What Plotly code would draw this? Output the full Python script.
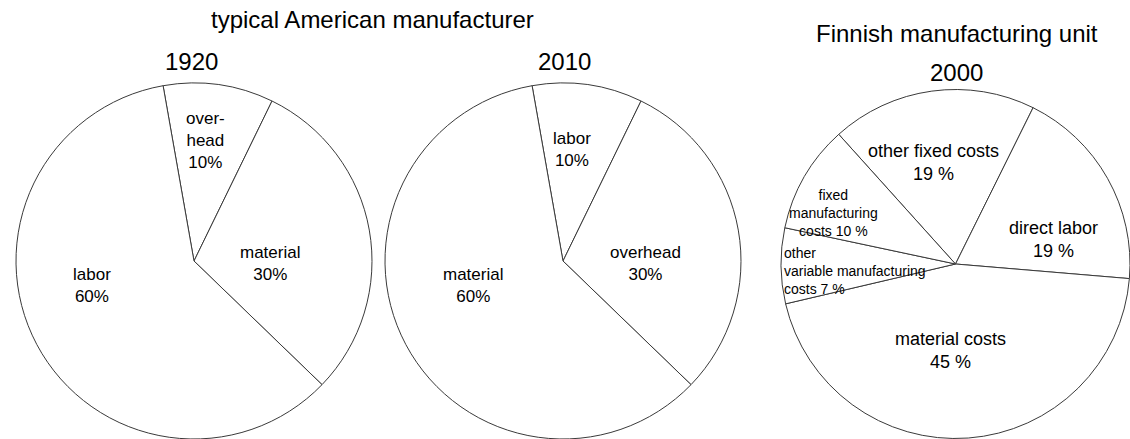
import plotly.graph_objects as go

W, H = 1130, 439

# ---- data ----
us1920_labels = ["over-<br>head", "material", "labor"]
us1920_values = [10, 30, 60]
us2010_labels = ["labor", "overhead", "material"]
us2010_values = [10, 30, 60]
fi2000_labels = ["other fixed costs", "direct labor", "material costs",
                 "other<br>variable manufacturing<br>costs", "fixed<br>manufacturing<br>costs"]
fi2000_values = [19, 19, 45, 7, 10]

FONT = "Liberation Sans, Arial, sans-serif"
LINE = dict(color="#3a3a3a", width=1)


def px2paper(x0, x1, y0, y1):
    return dict(x=[max(0, x0 / W), min(1, x1 / W)], y=[max(0, 1 - y1 / H), min(1, 1 - y0 / H)])


fig = go.Figure()
fig.add_trace(go.Pie(labels=us1920_labels, values=us1920_values, sort=False,
                     direction="clockwise", rotation=-10,
                     domain=px2paper(16, 372, 83, 439),
                     marker=dict(colors=["white"] * 3, line=LINE),
                     textinfo="none", showlegend=False, name="1920"))
fig.add_trace(go.Pie(labels=us2010_labels, values=us2010_values, sort=False,
                     direction="clockwise", rotation=-10,
                     domain=px2paper(385, 741, 83, 439),
                     marker=dict(colors=["white"] * 3, line=LINE),
                     textinfo="none", showlegend=False, name="2010"))
fig.add_trace(go.Pie(labels=fi2000_labels, values=fi2000_values, sort=False,
                     direction="clockwise", rotation=-42,
                     domain=px2paper(781, 1130, 89, 439),
                     marker=dict(colors=["white"] * 5, line=LINE),
                     textinfo="none", showlegend=False, name="2000"))


def ann(text, x, y, size, xanchor="center", align="center"):
    return dict(text=text, x=x / W, y=1 - y / H, xref="paper", yref="paper",
                showarrow=False, xanchor=xanchor, yanchor="middle", align=align,
                font=dict(family=FONT, size=size, color="black"))


anns = [
    ann("typical American manufacturer", 372, 20, 24),
    ann("1920", 191, 62, 24),
    ann("2010", 564, 62, 24),
    ann("Finnish manufacturing unit", 957, 33, 24),
    ann("2000", 956, 72, 24),
    # 1920
    ann(f"{us1920_labels[0]}<br>{us1920_values[0]}%", 205, 140, 17),
    ann(f"{us1920_labels[1]}<br>{us1920_values[1]}%", 270, 263, 17),
    ann(f"{us1920_labels[2]}<br>{us1920_values[2]}%", 92, 285, 17),
    # 2010
    ann(f"{us2010_labels[0]}<br>{us2010_values[0]}%", 572, 149, 17),
    ann(f"{us2010_labels[1]}<br>{us2010_values[1]}%", 645, 263, 17),
    ann(f"{us2010_labels[2]}<br>{us2010_values[2]}%", 473, 285, 17),
    # 2000
    ann(f"{fi2000_labels[0]}<br>{fi2000_values[0]} %", 933, 163, 18),
    ann(f"{fi2000_labels[1]}<br>{fi2000_values[1]} %", 1053, 239, 18),
    ann(f"{fi2000_labels[2]}<br>{fi2000_values[2]} %", 950, 350, 18),
    ann(f"{fi2000_labels[3]} {fi2000_values[3]} %", 782, 271, 14, xanchor="left", align="left"),
    ann(f"{fi2000_labels[4]} {fi2000_values[4]} %", 834, 213, 14),
]

fig.update_layout(width=W, height=H, margin=dict(l=0, r=0, t=0, b=0),
                  paper_bgcolor="white", plot_bgcolor="white",
                  showlegend=False, annotations=anns,
                  font=dict(family=FONT))
fig.write_html("out.html")
